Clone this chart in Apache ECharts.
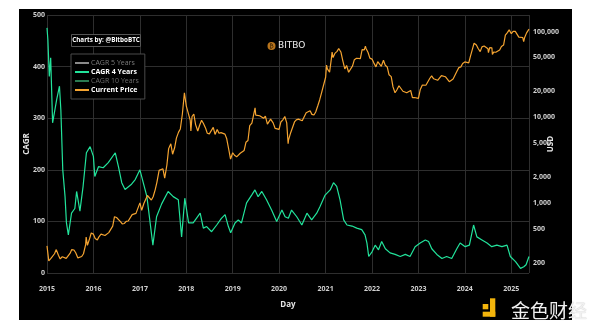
<!DOCTYPE html>
<html><head><meta charset="utf-8">
<script src="https://cdn.jsdelivr.net/npm/echarts@6/dist/echarts.min.js"></script>
<style>html,body{margin:0;padding:0;background:#fff}#c{width:600px;height:330px}</style>
</head><body><div id="c"></div>
<script>
// ---- data ----
const priceDates = ['2015-01-01','2015-01-15','2015-02-01','2015-02-15','2015-03-01','2015-03-15','2015-04-01','2015-04-15','2015-05-01','2015-05-15','2015-06-01','2015-06-15','2015-07-01','2015-07-15','2015-08-01','2015-08-15','2015-09-01','2015-09-15','2015-10-01','2015-10-15','2015-11-01','2015-11-05','2015-11-15','2015-12-01','2015-12-15',
'2016-01-01','2016-01-15','2016-02-01','2016-02-15','2016-03-01','2016-03-15','2016-04-01','2016-04-15','2016-05-01','2016-05-15','2016-06-01','2016-06-15','2016-07-01','2016-07-15','2016-08-01','2016-08-15','2016-09-01','2016-09-15','2016-10-01','2016-10-15','2016-11-01','2016-11-15','2016-12-01','2016-12-15',
'2017-01-01','2017-01-15','2017-02-01','2017-02-15','2017-03-01','2017-03-15','2017-04-01','2017-04-15','2017-05-01','2017-05-15','2017-06-01','2017-06-15','2017-07-01','2017-07-15','2017-08-01','2017-08-15','2017-09-01','2017-09-15','2017-10-01','2017-10-15','2017-11-01','2017-11-15','2017-12-01','2017-12-17',
'2018-01-01','2018-01-15','2018-02-01','2018-02-06','2018-02-15','2018-03-01','2018-03-15','2018-04-01','2018-04-15','2018-05-01','2018-05-15','2018-06-01','2018-06-15','2018-07-01','2018-07-15','2018-08-01','2018-08-15','2018-09-01','2018-09-15','2018-10-01','2018-10-15','2018-11-01','2018-11-15','2018-12-01','2018-12-15',
'2019-01-01','2019-01-15','2019-02-01','2019-02-15','2019-03-01','2019-03-15','2019-04-01','2019-04-15','2019-05-01','2019-05-15','2019-06-01','2019-06-15','2019-06-26','2019-07-01','2019-07-15','2019-08-01','2019-08-15','2019-09-01','2019-09-15','2019-10-01','2019-10-15','2019-10-26','2019-11-01','2019-11-15','2019-12-01','2019-12-15',
'2020-01-01','2020-01-15','2020-02-01','2020-02-15','2020-03-01','2020-03-12','2020-03-15','2020-04-01','2020-04-15','2020-05-01','2020-05-15','2020-06-01','2020-06-15','2020-07-01','2020-07-15','2020-08-01','2020-08-15','2020-09-01','2020-09-15','2020-10-01','2020-10-15','2020-11-01','2020-11-15','2020-12-01','2020-12-15',
'2021-01-01','2021-01-08','2021-01-15','2021-02-01','2021-02-15','2021-02-21','2021-03-01','2021-03-15','2021-04-01','2021-04-14','2021-05-01','2021-05-15','2021-06-01','2021-06-15','2021-07-01','2021-07-15','2021-08-01','2021-08-15','2021-09-01','2021-09-15','2021-10-01','2021-10-15','2021-11-01','2021-11-10','2021-11-15','2021-12-01','2021-12-15',
'2022-01-01','2022-01-15','2022-02-01','2022-02-15','2022-03-01','2022-03-15','2022-04-01','2022-04-15','2022-05-01','2022-05-15','2022-06-01','2022-06-15','2022-07-01','2022-07-15','2022-08-01','2022-08-15','2022-09-01','2022-09-15','2022-10-01','2022-10-15','2022-11-01','2022-11-15','2022-12-01','2022-12-15',
'2023-01-01','2023-01-15','2023-02-01','2023-02-15','2023-03-01','2023-03-15','2023-04-01','2023-04-15','2023-05-01','2023-05-15','2023-06-01','2023-06-15','2023-07-01','2023-07-15','2023-08-01','2023-08-15','2023-09-01','2023-09-15','2023-10-01','2023-10-15','2023-11-01','2023-11-15','2023-12-01','2023-12-15',
'2024-01-01','2024-01-15','2024-02-01','2024-02-15','2024-03-01','2024-03-14','2024-04-01','2024-04-15','2024-05-01','2024-05-15','2024-06-01','2024-06-15','2024-07-01','2024-07-05','2024-07-15','2024-08-01','2024-08-05','2024-08-15','2024-09-01','2024-09-15','2024-10-01','2024-10-15','2024-11-01','2024-11-15','2024-12-01','2024-12-15',
'2025-01-01','2025-01-15','2025-01-20','2025-02-01','2025-02-15','2025-03-01','2025-03-15','2025-04-01','2025-04-08','2025-04-15','2025-05-01','2025-05-15','2025-05-20'];
const priceValues = [315,210,225,235,255,285,245,222,235,237,225,235,257,285,282,262,228,230,237,255,325,400,320,378,445,
432,385,370,405,432,415,417,430,450,455,535,690,675,665,605,570,575,610,615,640,730,710,755,780,
1000,820,985,1010,1220,1240,1080,1180,1420,1750,2400,2450,2500,1950,2750,4300,4900,3700,4400,5700,6700,7300,10900,19300,
13500,13800,9200,6900,10200,10900,8200,6900,8000,9200,8500,7500,6500,6400,6300,7600,6300,7200,6500,6600,6650,6350,5600,4200,3250,
3850,3600,3450,3620,3800,3900,4100,5100,5350,8000,8550,8800,12900,10600,10800,10400,10300,9700,10300,8300,8300,9500,9200,8600,7400,7100,
7200,8800,9400,10200,8600,4900,5400,6600,6900,8800,9300,9500,9400,9100,9200,11300,11800,11900,10800,10600,11500,13700,15900,19500,19400,
29300,40600,36700,33500,48000,57500,49600,55600,58700,63500,57800,46400,36600,40200,33500,31800,39800,47000,48800,48000,48200,61500,61000,67500,63500,57000,48900,
47700,43100,38700,44600,44400,39300,46300,40400,38500,31300,29800,22600,19300,20800,23300,24100,20100,19700,19300,19100,20500,16900,17000,17400,
16600,20900,23700,24300,23600,24900,28500,30300,28100,27200,27000,25600,30600,30300,29700,29400,26000,26600,27900,27100,34700,37900,38700,42300,
44200,42500,43100,51900,62400,73100,69700,63400,58300,66200,67800,66200,62900,56700,64800,64600,54000,57500,57300,59200,60800,67000,69500,91000,97200,104500,
94400,100500,106000,100600,97500,86100,84300,85200,76300,84500,96500,103700,106800];

const cagrDates = ['2015-01-01','2015-01-08','2015-01-19','2015-01-30','2015-02-14','2015-03-04','2015-03-18','2015-04-09','2015-04-20','2015-05-05','2015-05-23','2015-06-03','2015-06-18','2015-07-13','2015-08-08','2015-08-22','2015-09-17','2015-10-12','2015-11-07','2015-12-06',
'2016-01-01','2016-01-12','2016-02-10','2016-03-18','2016-04-27','2016-06-21','2016-07-16','2016-08-11','2016-09-06','2016-10-27','2016-11-25',
'2017-01-01','2017-02-25','2017-04-13','2017-05-12','2017-06-21','2017-08-11','2017-09-20','2017-10-30','2017-11-25','2017-12-20',
'2018-01-19','2018-02-24','2018-04-20','2018-05-15','2018-06-10','2018-07-19','2018-08-28','2018-10-04','2018-11-02','2018-11-28','2018-12-16',
'2019-01-19','2019-02-14','2019-03-11','2019-04-20','2019-05-30','2019-06-25','2019-07-20','2019-08-18','2019-09-24','2019-11-03','2019-12-13',
'2020-01-23','2020-02-17','2020-03-14','2020-04-08','2020-05-19','2020-06-28','2020-08-07','2020-09-13','2020-10-23','2020-11-18','2020-12-28',
'2021-02-06','2021-03-04','2021-03-29','2021-04-24','2021-05-23','2021-06-18','2021-07-28','2021-09-03','2021-10-12','2021-11-07','2021-11-22','2021-12-06',
'2022-01-01','2022-01-26','2022-02-21','2022-03-18','2022-04-16','2022-05-23','2022-07-02','2022-08-11','2022-09-20','2022-10-27','2022-12-06',
'2023-01-15','2023-02-24','2023-03-22','2023-04-16','2023-05-26','2023-07-05','2023-08-11','2023-09-20','2023-10-30','2023-11-25',
'2024-01-04','2024-02-06','2024-03-10','2024-04-05','2024-05-15','2024-06-24','2024-07-31','2024-09-09','2024-10-19','2024-11-28','2024-12-24',
'2025-02-03','2025-03-14','2025-04-09','2025-04-27','2025-05-20'];
const cagr4Values = [475,452,381,417,291,316,336,362,316,200,148,97,74,116,125,158,120,168,233,245,
226,187,206,204,214,233,206,175,162,172,181,
200,148,54,109,134,158,148,142,70,145,
97,97,116,87,90,80,93,106,113,90,78,
97,103,97,136,151,161,148,158,142,122,100,
122,109,106,122,109,93,116,103,116,129,151,
161,175,168,142,103,93,91,87,84,74,58,32,
41,54,45,61,47,39,36,32,36,32,51,
58,64,61,47,36,28,32,28,47,58,
51,54,93,70,64,58,51,54,51,54,32,
22,9,12,16,32];
const cagr5Values = [];   // hidden in the reference (legend toggled off)
const cagr10Values = [];  // hidden in the reference (legend toggled off)

const cagrTicks = [0, 100, 200, 300, 400, 500];
const usdTicks = [200, 500, 1000, 2000, 5000, 10000, 20000, 50000, 100000];

const FONT = 'Open Sans, Noto Sans, sans-serif';
const chart = echarts.init(document.getElementById('c'), null, {renderer: 'canvas'});
const zip = (a, b) => a.map((d, i) => [d, b[i]]);
const nameStyle = {color: '#e6e6e6', fontSize: 8, fontWeight: 'bold', fontFamily: FONT};

chart.setOption({
  backgroundColor: '#ffffff',
  animation: false,
  textStyle: {fontFamily: FONT},
  grid: {left: 47, right: 71, top: 15, bottom: 57, outerBoundsMode: 'none', containLabel: false},
  legend: {
    orient: 'vertical', left: 71, top: 54, padding: [5, 6, 5, 4], itemGap: 1,
    itemWidth: 14, itemHeight: 2, icon: 'rect', borderColor: '#4a4a4a', borderWidth: 1, backgroundColor: '#000',
    textStyle: {fontSize: 7, lineHeight: 8, color: '#ffffff', fontWeight: 'bold', fontFamily: FONT, padding: [0, 0, 0, -3]},
    data: [
      {name: 'CAGR 5 Years', textStyle: {color: '#7a7a7a', fontWeight: 'normal'}},
      {name: 'CAGR 4 Years'},
      {name: 'CAGR 10 Years', textStyle: {color: '#6a6a6a', fontWeight: 'normal'}},
      {name: 'Current Price'}
    ]
  },
  xAxis: {
    type: 'time', min: '2015-01-01', max: '2025-05-20',
    splitNumber: 10, minInterval: 365 * 86400000, maxInterval: 366 * 86400000,
    name: 'Day', nameLocation: 'middle', nameGap: 28, nameMoveOverlap: false,
    nameTextStyle: nameStyle,
    axisLine: {show: false}, axisTick: {show: false},
    axisLabel: {color: '#d0d0d0', fontSize: 7, fontWeight: 'bold', margin: 12, formatter: '{yyyy}', hideOverlap: false},
    splitLine: {show: true, lineStyle: {color: '#2e2e2e', width: 1}}
  },
  yAxis: [{
    type: 'value', min: cagrTicks[0], max: cagrTicks[cagrTicks.length - 1], interval: 100,
    name: 'CAGR', nameLocation: 'middle', nameGap: 16, nameMoveOverlap: false,
    nameTextStyle: nameStyle,
    axisLine: {show: false}, axisTick: {show: false},
    axisLabel: {color: '#d0d0d0', fontSize: 7, fontWeight: 'bold', margin: 2},
    splitLine: {show: true, lineStyle: {color: '#2e2e2e', width: 1}}
  }, {
    type: 'log', logBase: 10, min: 152, max: 156000, position: 'right',
    name: 'USD', nameLocation: 'middle', nameGap: 18, nameMoveOverlap: false,
    nameTextStyle: nameStyle,
    axisLine: {show: false}, axisTick: {show: false},
    axisLabel: {color: '#d0d0d0', fontSize: 7, fontWeight: 'bold', margin: 4,
      customValues: usdTicks,
      formatter: v => Math.round(v).toLocaleString('en-US')},
    splitLine: {show: false}
  }],
  series: [
    {name: 'CAGR 5 Years', type: 'line', symbol: 'none', data: cagr5Values, lineStyle: {color: '#8a8a8a', width: 1.5}, itemStyle: {color: '#8a8a8a'}},
    {name: 'CAGR 4 Years', type: 'line', symbol: 'none', data: zip(cagrDates, cagr4Values), lineStyle: {color: '#22e39b', width: 1.2}, itemStyle: {color: '#22e39b'}},
    {name: 'CAGR 10 Years', type: 'line', symbol: 'none', data: cagr10Values, lineStyle: {color: '#2b7a52', width: 1.5}, itemStyle: {color: '#2b7a52'}},
    {name: 'Current Price', type: 'line', symbol: 'none', yAxisIndex: 1, data: zip(priceDates, priceValues), lineStyle: {color: '#f5a431', width: 1.2}, itemStyle: {color: '#f5a431'}}
  ],
  graphic: {elements: [
    {type: 'rect', z: -100, shape: {x: 19, y: 9, width: 553, height: 311}, style: {fill: '#000'}},
    {type: 'rect', z: 10, shape: {x: 71.5, y: 34.5, width: 69, height: 12}, style: {fill: '#000', stroke: '#555', lineWidth: 1}},
    {type: 'text', z: 11, x: 106, y: 40.5, style: {text: 'Charts by: @BitboBTC', fill: '#fff', fontSize: 6.3, fontWeight: 'bold', fontFamily: FONT, align: 'center', verticalAlign: 'middle'}},
    {type: 'circle', z: 11, shape: {cx: 271.5, cy: 46, r: 4}, style: {fill: '#b8741c'}},
    {type: 'text', z: 12, x: 271.5, y: 46.5, style: {text: '₿', fill: '#2a1800', fontSize: 6, fontFamily: 'DejaVu Sans', align: 'center', verticalAlign: 'middle'}},
    {type: 'text', z: 11, x: 278, y: 46, style: {text: 'BITBO', fill: '#eeeeee', fontSize: 9, fontFamily: 'DejaVu Sans', align: 'left', verticalAlign: 'middle'}},
    {type: 'rect', z: 20, shape: {x: 482.7, y: 304, width: 5.6, height: 5.3}, style: {fill: '#f3b50c'}},
    {type: 'rect', z: 20, shape: {x: 490, y: 298.3, width: 5.3, height: 18.4}, style: {fill: '#f3b50c'}},
    {type: 'rect', z: 20, shape: {x: 482.7, y: 311.7, width: 12.6, height: 5}, style: {fill: '#f3b50c'}},
    {type: 'text', z: 20, x: 511, y: 310.5, style: {text: '金色财经', fill: '#f0f0f0', fontSize: 19, fontFamily: 'Noto Sans CJK SC', align: 'left', verticalAlign: 'middle', textShadowColor: 'rgba(0,0,0,0.25)', textShadowBlur: 1}}
  ]}
});
</script></body></html>
